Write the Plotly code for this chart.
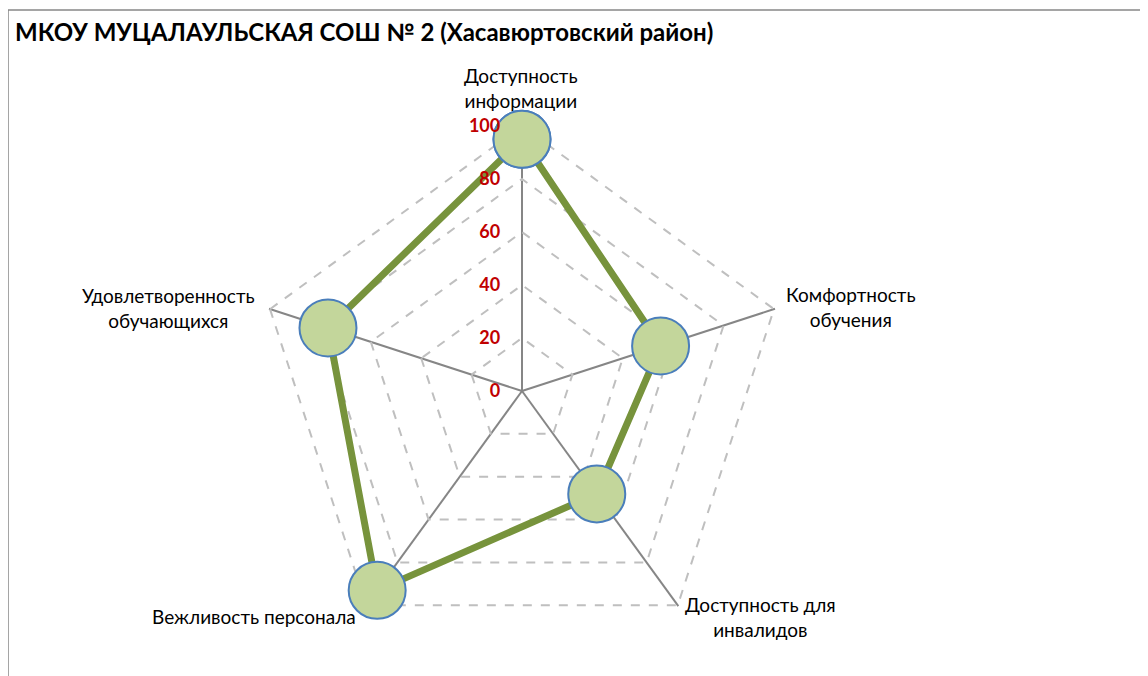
import plotly.graph_objects as go

categories = [
    "Доступность информации",
    "Комфортность обучения",
    "Доступность для инвалидов",
    "Вежливость персонала",
    "Удовлетворенность обучающихся",
]
values = [95, 55, 48, 93, 77]
radial_ticks = [0, 20, 40, 60, 80, 100]
title_text = "МКОУ МУЦАЛАУЛЬСКАЯ СОШ № 2 (Хасавюртовский район)"

# label text (line-broken) and page positions of the category labels
label_lines = [
    "Доступность<br>информации",
    "Комфортность<br>обучения",
    "Доступность для<br>инвалидов",
    "Вежливость персонала",
    "Удовлетворенность<br>обучающихся",
]
label_pos = [(521, 88), (851, 307), (760, 617), (254, 616), (168, 308)]

OFF = 8  # default body margin of the html page
FW, FH = 1140, 668
cx, cy, R = 522, 391, 266


def px(x):
    return (x - OFF) / FW


def py(y):
    return 1 - (y - OFF) / FH


fig = go.Figure()
fig.add_trace(go.Scatterpolar(
    r=values + values[:1],
    theta=categories + categories[:1],
    mode="lines+markers",
    line=dict(color="#77933c", width=7),
    marker=dict(size=57, color="#c3d69b", line=dict(color="#4a7ebb", width=2)),
    showlegend=False,
    cliponaxis=False,
))

annotations = [
    dict(text=t, x=px(x), y=py(y), xref="paper", yref="paper", showarrow=False,
         xanchor="center", yanchor="middle", align="center",
         font=dict(family="Lato", size=19, color="#000000"))
    for t, (x, y) in zip(label_lines, label_pos)
]

fig.update_layout(
    width=FW, height=FH,
    margin=dict(l=0, r=0, t=0, b=0),
    paper_bgcolor="white",
    plot_bgcolor="white",
    title=dict(text=title_text, x=px(15), xanchor="left", y=py(33), yanchor="middle",
               font=dict(family="Lato", size=24, color="#000000", weight="bold")),
    annotations=annotations,
    polar=dict(
        domain=dict(x=[px(cx - R), px(cx + R)], y=[py(cy + R), py(cy - R)]),
        bgcolor="white",
        gridshape="linear",
        radialaxis=dict(
            range=[0, 100.4], tickvals=radial_ticks, angle=90, side="counterclockwise",
            showline=False, gridcolor="#bfbfbf", griddash="dash", gridwidth=1.5,
            ticks="outside", ticklen=15, tickcolor="rgba(0,0,0,0)",
            tickfont=dict(family="Lato", size=18, color="#c00000", weight="bold"),
            tickangle=90,
        ),
        angularaxis=dict(
            rotation=90, direction="clockwise", showline=False,
            gridcolor="#868686", gridwidth=1.5, showticklabels=False, ticks="",
        ),
    ),
    shapes=[
        dict(type="line", xref="paper", yref="paper", x0=px(8), x1=1.01, y0=py(10), y1=py(10),
             line=dict(color="#878787", width=1.5)),
        dict(type="line", xref="paper", yref="paper", x0=px(8), x1=px(8), y0=py(10), y1=-0.01,
             line=dict(color="#878787", width=1.5)),
    ],
)

fig.write_html("out.html")
